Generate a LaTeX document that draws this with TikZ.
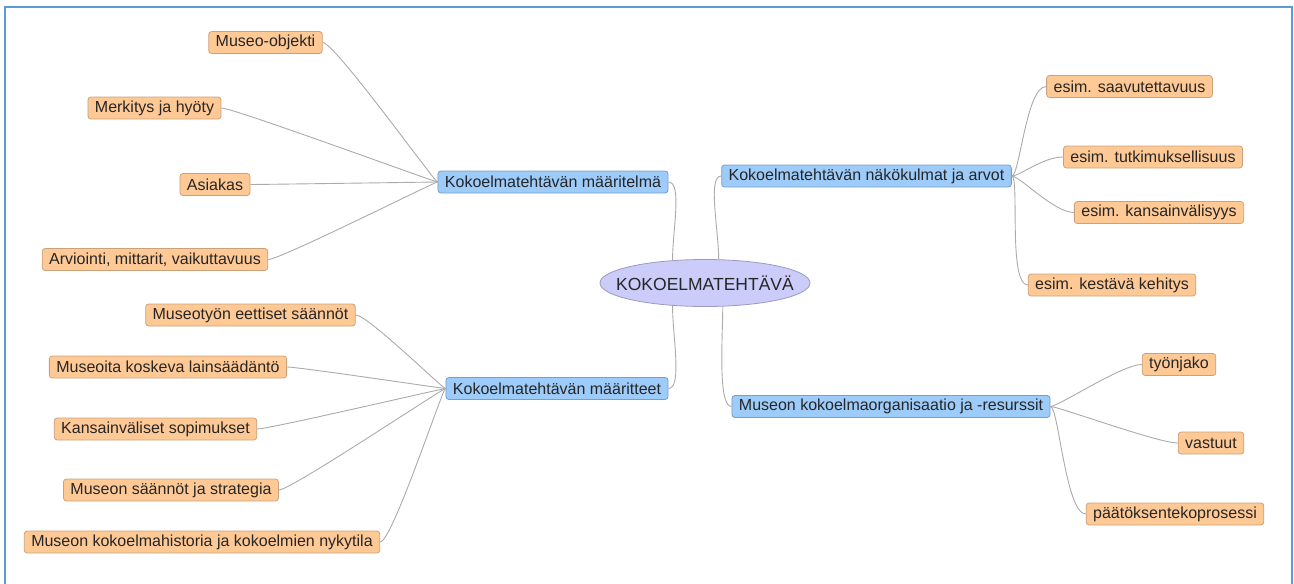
\documentclass[tikz,border=0pt]{standalone}
\usepackage{fontspec}
\setmainfont{Liberation Sans}
\usetikzlibrary{shapes.geometric}

\definecolor{leaffill}{HTML}{FFC996}
\definecolor{leafline}{HTML}{C9A27C}
\definecolor{topicfill}{HTML}{9DCBFA}
\definecolor{topicline}{HTML}{7A9CC6}
\definecolor{corefill}{HTML}{CCCCFA}
\definecolor{coreline}{HTML}{9A9AC0}
\definecolor{frameblue}{HTML}{5B9BD5}
\definecolor{linkgrey}{HTML}{ABABAB}

\begin{document}
\begin{tikzpicture}[x=1pt, y=-1pt,
    box/.style={rectangle, rounded corners=3pt, inner xsep=7pt, inner ysep=0pt,
      minimum height=22pt, font=\fontsize{16}{18}\selectfont, text=black!85},
    leaf/.style={box, fill=leaffill, draw=leafline, line width=0.8pt},
    topic/.style={box, fill=topicfill, draw=topicline, line width=0.8pt},
    core/.style={ellipse, fill=corefill, draw=coreline, line width=0.8pt,
      minimum width=210pt, minimum height=47pt, inner xsep=-16pt, inner ysep=0pt,
      font=\fontsize{17.5}{20}\selectfont, text=black!85},
    link/.style={draw=linkgrey, line width=0.9pt}]

  \useasboundingbox (0,0) rectangle (1294,584);
  \draw[frameblue, line width=2pt] (5,584) -- (5,6.5) -- (1292,6.5) -- (1292,584);

  % centre and main topics
  \node[core] (core) at (705,283) {KOKOELMATEHTÄVÄ};
  \node[topic] (def) at (553,182) {Kokoelmatehtävän määritelmä};
  \node[topic] (attr) at (557,388.5) {Kokoelmatehtävän määritteet};
  \node[topic] (view) at (866.5,176) {Kokoelmatehtävän näkökulmat ja arvot};
  \node[topic] (org) at (891,406.5) {Museon kokoelmaorganisaatio ja -resurssit};

  \draw[link] (def.east) .. controls +(14,0) and +(0,-30) .. (core.145);
  \draw[link] (attr.east) .. controls +(14,0) and +(0,30) .. (core.215);
  \draw[link] (view.west) .. controls +(-14,0) and +(0,-30) .. (core.60);
  \draw[link] (org.west) .. controls +(-14,0) and +(0,30) .. (core.307);

  % left, top
  \node[leaf] (obj) at (265.5,42.5) {Museo-objekti};
  \node[leaf] (mer) at (154.5,108) {Merkitys ja hyöty};
  \node[leaf] (asi) at (215,184.5) {Asiakas};
  \node[leaf] (arv) at (155,259.5) {Arviointi, mittarit, vaikuttavuus};

  \foreach \n in {obj,mer,asi,arv}{
    \draw[link] (\n.east) .. controls +(12,0) and +(-3,0) .. (def.west);
  }

  % left, bottom
  \node[leaf] (eet) at (250.5,315) {Museotyön eettiset säännöt};
  \node[leaf] (lak) at (168,367) {Museoita koskeva lainsäädäntö};
  \node[leaf] (sop) at (155.5,429) {Kansainväliset sopimukset};
  \node[leaf] (str) at (171,490) {Museon säännöt ja strategia};
  \node[leaf] (his) at (202,542) {Museon kokoelmahistoria ja kokoelmien nykytila};

  \foreach \n in {eet,lak,sop,str,his}{
    \draw[link] (\n.east) .. controls +(12,0) and +(-3,0) .. (attr.west);
  }

  % right, top
  \node[leaf] (saa) at (1129.5,86.5) {esim. saavutettavuus};
  \node[leaf] (tut) at (1153,157) {esim. tutkimuksellisuus};
  \node[leaf] (kan) at (1159,212.5) {esim. kansainvälisyys};
  \node[leaf] (kes) at (1112,285) {esim. kestävä kehitys};

  \foreach \n in {saa,tut,kan,kes}{
    \draw[link] (view.east) .. controls +(8,0) and +(-20,0) .. (\n.west);
  }

  % right, bottom
  \node[leaf] (tyo) at (1179,364.5) {työnjako};
  \node[leaf] (vas) at (1211,443) {vastuut};
  \node[leaf] (paa) at (1175,514) {päätöksentekoprosessi};

  \foreach \n in {tyo,vas,paa}{
    \draw[link] (org.east) .. controls +(8,0) and +(-20,0) .. (\n.west);
  }

\end{tikzpicture}
\end{document}
